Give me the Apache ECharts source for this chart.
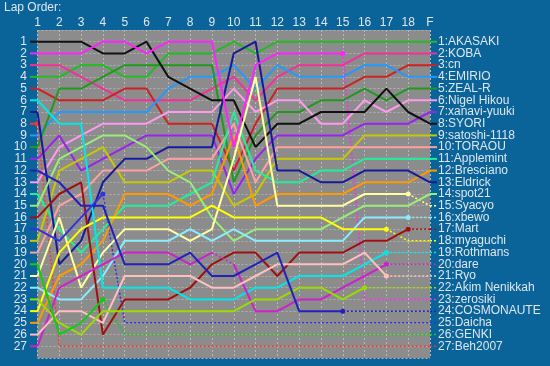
<!DOCTYPE html>
<html><head><meta charset="utf-8">
<script src="https://cdn.jsdelivr.net/npm/echarts@6/dist/echarts.min.js"></script>
<style>html,body{margin:0;padding:0;background:#0a6499;}#c{width:550px;height:366px;}</style>
</head><body><div id="c"></div>
<script>
// Lap labels
const laps = ['1','2','3','4','5','6','7','8','9','10','11','12','13','14','15','16','17','18','F'];
// Drivers in final classification order
const names = ['AKASAKI','KOBA','cn','EMIRIO','ZEAL-R','Nigel Hikou','xanavi-yuuki','SYORI','satoshi-1118','TORAOU',
  'Applemint','Bresciano','Eldrick','spot21','Syacyo','xbewo','Mart','myaguchi','Rothmans','dare','Ryo',
  'Akim Nenikkah','zerosiki','COSMONAUTE','Daicha','GENKI','Beh2007'];
const colors = ['#22bb22','#f2309a','#cc2222','#2299ff','#1f9a1f','#ff99ee','#9922ee','#111111','#c8c800','#ffa0a0',
  '#22ee99','#ff9900','#1a1a99','#99ee77','#ffffa0','#88eeff','#a01010','#ffff00','#00e8e8','#cc22cc','#ffbfbf',
  '#99dd00','#ff22ff','#2222bb','#3333dd','#11cc11','#ff3333'];
// Position per lap (lap 1 .. last lap driven)
const pos_AKASAKI   = [4,4,3,3,4,4,2,2,2,1,2,1,1,1,1,1,1,1,1];
const pos_KOBA      = [3,3,4,5,6,6,6,6,5,4,6,4,3,3,3,2,2,2,2];
const pos_cn        = [5,6,6,6,5,5,8,8,8,12,8,5,5,5,5,4,4,3,3];
const pos_EMIRIO    = [9,7,7,7,7,7,5,4,4,3,5,3,4,4,4,3,3,4,4];
const pos_ZEALR     = [10,5,5,4,3,3,3,3,3,13,9,7,7,6,6,5,6,5,5];
const pos_Nigel     = [13,10,9,8,8,8,7,7,7,5,7,6,6,8,8,6,7,6,6];
const pos_xanavi    = [11,9,12,11,10,9,9,9,9,14,11,9,9,9,9,8,8,8,7];
const pos_SYORI     = [1,1,1,2,2,1,4,5,6,6,10,8,8,7,7,7,5,7,8];
const pos_satoshi   = [18,12,11,10,13,13,13,12,12,15,14,11,11,11,11,9,9,9,9];
const pos_TORAOU    = [19,15,14,12,12,12,11,11,11,8,13,10,10,10,10,10,10,10,10];
const pos_Applemint = [14,17,19,17,15,15,15,14,13,7,12,13,13,12,12,11,11,11,11];
const pos_Bresciano = [25,21,20,18,14,14,14,15,14,9,15,14,14,14,14,13,13,13,12];
const pos_Eldrick   = [7,20,18,13,11,11,10,10,10,2,1,12,12,13,13,12,12,12,13];
const pos_spot21    = [15,11,10,9,9,10,12,13,16,18,17,17,17,17,16,15,15,15,14];
const pos_Syacyo    = [21,16,22,19,17,17,17,18,17,11,4,15,15,15,15,14,14,14];
const pos_xbewo     = [22,23,23,21,18,18,18,17,18,17,18,18,18,18,18,16,16,16];
const pos_Mart      = [16,14,13,26,23,23,23,22,20,19,19,21,19,19,19,18,18,17];
const pos_myaguchi  = [24,19,17,16,16,16,16,16,15,16,16,16,16,16,17,17,17];
const pos_Rothmans  = [6,8,8,22,22,22,22,23,23,23,22,22,21,21,21,20,19];
const pos_dare      = [27,22,21,20,19,19,19,20,19,20,24,24,23,23,22,21,20];
const pos_Ryo       = [26,24,24,25,21,21,21,21,22,22,21,20,20,20,20,19,21];
const pos_Akim      = [23,25,26,24,24,24,24,24,24,24,23,23,22,22,23,22];
const pos_zerosiki  = [2,2,2,1,1,2,1,1,1,10,3,2,2,2,2];
const pos_COSMO     = [12,13,15,15,20,20,20,19,21,21,20,19,24,24,24];
const pos_Daicha    = [17,18,16,14];
const pos_GENKI     = [20,26,25,23];
const pos_Beh2007   = [8];

const positions = [pos_AKASAKI,pos_KOBA,pos_cn,pos_EMIRIO,pos_ZEALR,pos_Nigel,pos_xanavi,pos_SYORI,pos_satoshi,
  pos_TORAOU,pos_Applemint,pos_Bresciano,pos_Eldrick,pos_spot21,pos_Syacyo,pos_xbewo,pos_Mart,pos_myaguchi,
  pos_Rothmans,pos_dare,pos_Ryo,pos_Akim,pos_zerosiki,pos_COSMO,pos_Daicha,pos_GENKI,pos_Beh2007];

// Legs drawn dotted (pit laps): [driver name, lap at start of the leg]
const pitDriver = ['dare'];
const pitLap    = [9];

const TXT = '#dde6ee';
const FONT = 'Liberation Sans, Arial, sans-serif';
const NL = laps.length;

function lineSeries(data, col, dotted, z) {
  return {type:'line', xAxisIndex:0, yAxisIndex:0, data: data, connectNulls:false, silent:true,
    symbol:'circle', symbolSize:0, showSymbol:true, showAllSymbol:true,
    lineStyle:{color: col, width: dotted ? 1.5 : 2, type: dotted ? [2,2] : 'solid'},
    itemStyle:{color: col}, z: z, animation:false};
}

const series = [];
positions.forEach((p, i) => {
  const fin = i + 1;
  const col = colors[i];
  const finished = p.length === NL;
  const last = p.length;
  const pits = [];
  pitDriver.forEach((n, k) => { if (n === names[i]) pits.push(pitLap[k]); });
  let start = 1;
  const cuts = pits.slice().sort((a, b) => a - b).concat([last]);
  cuts.forEach(c => {
    const end = c;
    if (end > start) {
      const d = new Array(NL).fill(null);
      for (let l = start; l <= end; l++) d[l-1] = p[l-1];
      series.push(lineSeries(d, col, false, 3));
    }
    start = c + 1;
  });
  pits.forEach(l => {
    const d = new Array(NL).fill(null);
    d[l-1] = p[l-1]; d[l] = p[l];
    series.push(lineSeries(d, col, true, 3));
  });
  if (!finished) {
    const d = new Array(NL).fill(null);
    d[last-1] = {value: p[last-1], symbolSize: 5};
    d[last] = fin;
    d[NL-1] = fin;
    const s = lineSeries(d, col, true, 2);
    s.connectNulls = true;
    series.push(s);
  }
  series.push({type:'line', xAxisIndex:1, yAxisIndex:1, data:[[0,p[0]],[1,p[0]]], symbol:'none', silent:true,
    lineStyle:{color: col, width: 2}, animation:false});
  series.push({type:'line', xAxisIndex:2, yAxisIndex:2, data:[[0,fin],[1,fin]], symbol:'none', silent:true,
    lineStyle:{color: col, width: finished ? 2 : 1.5, type: finished ? 'solid' : [2,2]}, animation:false});
});

const yBase = {type:'value', min:0, max:28, interval:1, inverse:true,
  axisLine:{show:false}, axisTick:{show:false}};

const chart = echarts.init(document.getElementById('c'), null, {renderer:'canvas'});
chart.setOption({
  backgroundColor:'#0a6499',
  animation:false,
  title:{text:'Lap Order:', left:4, top:2, padding:0,
    textStyle:{color:TXT, fontSize:12, fontWeight:'normal', fontFamily:FONT}},
  grid:[
    {left:37.5, width:392.5, top:30, height:328, show:true, backgroundColor:'#8c8c8c', borderWidth:0},
    {left:30, width:7.5, top:30, height:328, show:false},
    {left:430, width:7, top:30, height:328, show:false}
  ],
  xAxis:[
    {gridIndex:0, type:'category', data:laps, boundaryGap:false, position:'top',
      axisLine:{show:false}, axisTick:{show:false},
      axisLabel:{color:TXT, fontSize:12, fontFamily:FONT, margin:1, interval:0},
      splitLine:{show:true, lineStyle:{color:'#b8b8b8', width:1, type:[2,2]}}},
    {gridIndex:1, type:'value', min:0, max:1, show:false},
    {gridIndex:2, type:'value', min:0, max:1, show:false}
  ],
  yAxis:[
    Object.assign({}, yBase, {gridIndex:0, axisLabel:{show:false},
      splitLine:{show:true, lineStyle:{color:'#b0b0b0', width:1, type:[2,2]}}}),
    Object.assign({}, yBase, {gridIndex:1, position:'left', splitLine:{show:false},
      axisLabel:{color:TXT, fontSize:12, fontFamily:FONT, margin:3,
        formatter: v => (v >= 1 && v <= 27) ? String(v) : ''}}),
    Object.assign({}, yBase, {gridIndex:2, position:'right', splitLine:{show:false},
      axisLabel:{color:TXT, fontSize:12, fontFamily:FONT, margin:1, align:'left',
        formatter: v => (v >= 1 && v <= 27) ? (v + ':' + names[v-1]) : ''}})
  ],
  series: series
});
</script></body></html>
